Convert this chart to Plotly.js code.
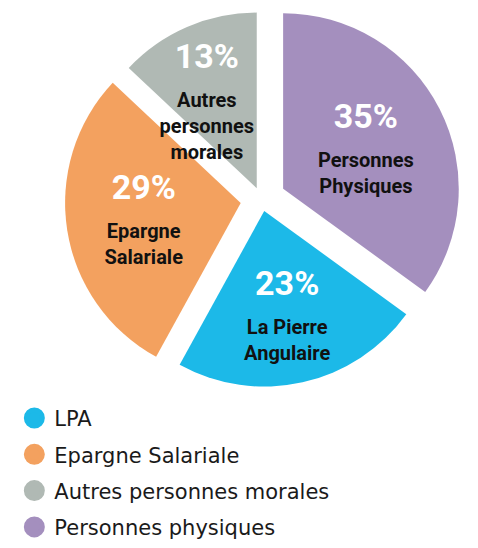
<!DOCTYPE html>
<html>
<head>
<meta charset="utf-8">
<script src="https://cdn.plot.ly/plotly-3.0.1.min.js"></script>
<style>
  body { margin: 0; background: #fff; }
  #chart { width: 478px; height: 548px; }
</style>
</head>
<body>
<div id="chart"></div>
<script>
// slices, clockwise from 12 o'clock
const sliceLabels = [['Personnes', 'Physiques'], ['La Pierre', 'Angulaire'], ['Epargne', 'Salariale'], ['Autres', 'personnes', 'morales']];
const sliceValues = [35, 23, 29, 13];
const sliceColors = ['#a48fbe', '#1cb9e8', '#f3a15f', '#b0b9b4'];

// legend entries (own order)
const legendNames = ['LPA', 'Epargne Salariale', 'Autres personnes morales', 'Personnes physiques'];
const legendColors = ['#1cb9e8', '#f3a15f', '#b0b9b4', '#a48fbe'];

const PIE_FONT = 'Roboto';
const LEG_FONT = 'DejaVu Sans';
// blank lines put above a slice's text to nudge it down (the narrow slice)
const padLines = [0, 0, 0, 6];

var sliceText = sliceLabels.map(function (lines) {
    return lines.map(function (l) {
        return '<span style="font-size:20px">' + l + '</span>';
    }).join('<br> <br>');
});
var padText = padLines.map(function (n) {
    var s = '';
    for (var k = 0; k < n; k++) s += '\u00a0<br>';
    return s;
});

var traces = [{
    type: 'pie',
    values: sliceValues,
    text: sliceText,
    customdata: padText,
    sort: false,
    direction: 'clockwise',
    rotation: 0,
    pull: [0.137, 0.066, 0.121, 0.071],
    marker: { colors: sliceColors, line: { width: 0 } },
    textposition: 'inside',
    insidetextorientation: 'horizontal',
    texttemplate: '%{customdata}<span style="font-size:34px;color:#ffffff">%{value}%</span><br> <br> <br>%{text}',
    textfont: { family: PIE_FONT, size: 10, color: '#111111', weight: 'bold' },
    hoverinfo: 'none',
    showlegend: false,
    domain: { x: [0.095, 1.0], y: [0.19, 1.0] }
}];

legendNames.forEach(function (name, i) {
    traces.push({
        type: 'scatter',
        mode: 'markers',
        x: [null],
        y: [null],
        name: name,
        legendgroup: 'g' + i,
        marker: { color: legendColors[i], size: 24, symbol: 'circle', line: { color: legendColors[i], width: 5 } },
        hoverinfo: 'none'
    });
});

var layout = {
    width: 478,
    height: 548,
    margin: { l: 0, r: 0, t: 0, b: 0 },
    paper_bgcolor: '#ffffff',
    plot_bgcolor: '#ffffff',
    xaxis: { visible: false },
    yaxis: { visible: false },
    uniformtext: { mode: 'show', minsize: 10 },
    showlegend: true,
    legend: {
        x: 0.03,
        y: 0.193,
        xanchor: 'left',
        yanchor: 'top',
        orientation: 'v',
        tracegroupgap: 6,
        itemsizing: 'trace',
        font: { family: LEG_FONT, size: 21, color: '#1a1a1a' }
    }
};

Plotly.newPlot('chart', traces, layout, { staticPlot: true });
</script>
</body>
</html>
